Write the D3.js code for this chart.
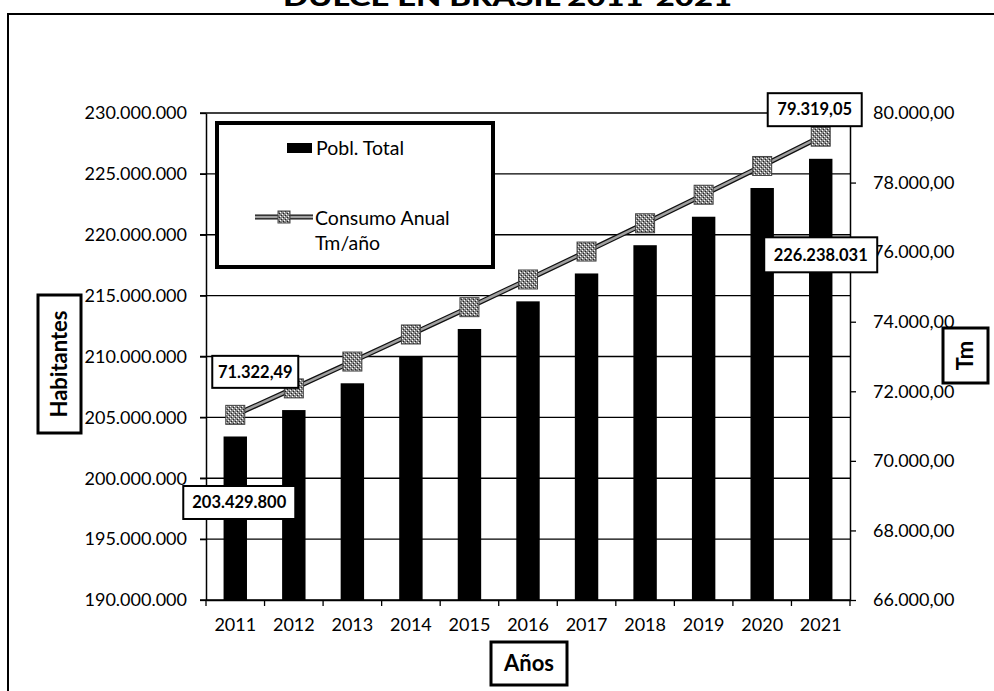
<!DOCTYPE html>
<html>
<head>
<meta charset="utf-8">
<script src="https://cdn.jsdelivr.net/npm/d3@7"></script>
<style>
  body { margin: 0; background: #fff; }
  text { font-family: Lato, "Open Sans", sans-serif; fill: #000; }
</style>
</head>
<body>
<svg id="chart"></svg>
<script>
// datos
var years = ["2011", "2012", "2013", "2014", "2015", "2016", "2017", "2018", "2019", "2020", "2021"];
var poblacion = [203429800, 205600000, 207800000, 210020000, 212260000, 214530000, 216820000, 219140000, 221480000, 223840000, 226238031];
var consumo = [71322.49, 72083, 72855, 73633, 74418, 75214, 76017, 76830, 77650, 78477, 79319.05];
var leftTicks = [190000000, 195000000, 200000000, 205000000, 210000000, 215000000, 220000000, 225000000, 230000000];
var rightTicks = [66000, 68000, 70000, 72000, 74000, 76000, 78000, 80000];

var width = 994;
var height = 691;
var plotLeft = 206, plotRight = 850, plotTop = 113, plotBottom = 600;

var locale = d3.formatLocale({ decimal: ",", thousands: ".", grouping: [3], currency: ["", ""] });
var fmtInt = locale.format(",.0f");
var fmtDec = locale.format(",.2f");

var svg = d3.select("#chart")
    .attr("width", width)
    .attr("height", height);

// patron gris de los marcadores
var pat = svg.append("defs").append("pattern")
    .attr("id", "grain")
    .attr("width", 4)
    .attr("height", 4)
    .attr("patternUnits", "userSpaceOnUse");
pat.append("rect").attr("width", 4).attr("height", 4).attr("fill", "#8a8a8a");
pat.append("rect").attr("x", 0).attr("y", 0).attr("width", 1).attr("height", 1).attr("fill", "#fff");
pat.append("rect").attr("x", 2).attr("y", 2).attr("width", 1).attr("height", 1).attr("fill", "#fff");
pat.append("rect").attr("x", 3).attr("y", 1).attr("width", 1).attr("height", 1).attr("fill", "#222");
pat.append("rect").attr("x", 1).attr("y", 3).attr("width", 1).attr("height", 1).attr("fill", "#222");

// titulo (cortado arriba)
svg.append("text")
    .attr("x", 283)
    .attr("y", 6)
    .attr("textLength", 449)
    .attr("lengthAdjust", "spacingAndGlyphs")
    .style("font-size", "24px")
    .style("font-weight", "900")
    .text("DULCE EN BRASIL 2011-2021");

// marco
svg.append("path")
    .attr("d", "M8," + height + "V14H" + width)
    .attr("fill", "none")
    .attr("stroke", "#000")
    .attr("stroke-width", 2);

var x = d3.scaleBand()
    .domain(years)
    .range([plotLeft, plotRight])
    .paddingInner(0.6)
    .paddingOuter(0.3);

var yL = d3.scaleLinear()
    .domain([190000000, 230000000])
    .range([plotBottom, plotTop]);

var yR = d3.scaleLinear()
    .domain([66000, 80000])
    .range([plotBottom, plotTop]);

// lineas de division
svg.append("g")
    .selectAll("line")
    .data(leftTicks)
    .enter().append("line")
    .attr("x1", plotLeft - 6)
    .attr("x2", plotRight)
    .attr("y1", function (d) { return yL(d); })
    .attr("y2", function (d) { return yL(d); })
    .attr("stroke", "#000")
    .attr("stroke-width", 1.3);

// barras
svg.append("g")
    .selectAll("rect")
    .data(poblacion)
    .enter().append("rect")
    .attr("x", function (d, i) { return x(years[i]); })
    .attr("y", function (d) { return yL(d); })
    .attr("width", x.bandwidth())
    .attr("height", function (d) { return plotBottom - yL(d); })
    .attr("fill", "#000");

// ejes
var axL = svg.append("g")
    .attr("transform", "translate(" + plotLeft + ",0)")
    .call(d3.axisLeft(yL).tickValues(leftTicks).tickFormat(fmtInt).tickSize(6).tickSizeOuter(0).tickPadding(13));

var axR = svg.append("g")
    .attr("transform", "translate(" + plotRight + ",0)")
    .call(d3.axisRight(yR).tickValues(rightTicks).tickFormat(fmtDec).tickSize(6).tickSizeOuter(0).tickPadding(17));

var axB = svg.append("g")
    .attr("transform", "translate(0," + plotBottom + ")")
    .call(d3.axisBottom(x).tickSize(0).tickSizeOuter(0).tickPadding(18));

[axL, axR, axB].forEach(function (a) {
    a.select(".domain").attr("stroke", "#000").attr("stroke-width", 1.5);
    a.selectAll(".tick line").attr("stroke", "#000").attr("stroke-width", 1.3);
    a.selectAll("text").style("font-size", "18px").style("font-family", "Lato");
});

// marcas del eje x entre categorias
svg.append("g")
    .selectAll("line")
    .data(d3.range(years.length + 1))
    .enter().append("line")
    .attr("x1", function (i) { return plotLeft + i * x.step(); })
    .attr("x2", function (i) { return plotLeft + i * x.step(); })
    .attr("y1", plotBottom)
    .attr("y2", plotBottom + 6)
    .attr("stroke", "#000")
    .attr("stroke-width", 1.3);

// linea de consumo
var line = d3.line()
    .x(function (d, i) { return x(years[i]) + x.bandwidth() / 2; })
    .y(function (d) { return yR(d); });

svg.append("path")
    .datum(consumo)
    .attr("d", line)
    .attr("fill", "none")
    .attr("stroke", "#111")
    .attr("stroke-width", 5);

svg.append("path")
    .datum(consumo)
    .attr("d", line)
    .attr("fill", "none")
    .attr("stroke", "#a0a0a0")
    .attr("stroke-width", 2.5);

svg.append("g")
    .selectAll("rect")
    .data(consumo)
    .enter().append("rect")
    .attr("x", function (d, i) { return x(years[i]) + x.bandwidth() / 2 - 9.5; })
    .attr("y", function (d) { return yR(d) - 9.5; })
    .attr("width", 19)
    .attr("height", 19)
    .attr("fill", "url(#grain)")
    .attr("stroke", "#444")
    .attr("stroke-width", 1);

// etiquetas de datos
function label(cx, cy, w, h, txt) {
    svg.append("rect")
        .attr("x", cx - w / 2)
        .attr("y", cy - h / 2)
        .attr("width", w)
        .attr("height", h)
        .attr("fill", "#fff")
        .attr("stroke", "#000")
        .attr("stroke-width", 2);
    svg.append("text")
        .attr("x", cx)
        .attr("y", cy)
        .attr("dy", "0.35em")
        .attr("text-anchor", "middle")
        .style("font-size", "16.5px")
        .style("font-weight", "bold")
        .text(txt);
}

var n = years.length - 1;
var cx0 = x(years[0]) + x.bandwidth() / 2;
var cxN = x(years[n]) + x.bandwidth() / 2;
label(cx0 + 20, yR(consumo[0]) - 43, 86, 32, fmtDec(consumo[0]));
label(cxN - 6, yR(consumo[n]) - 27, 94, 33, fmtDec(consumo[n]));
label(cx0 + 4, yL(poblacion[0]) + 66, 112, 33, fmtInt(poblacion[0]));
label(cxN, yL(poblacion[n]) + 96, 113, 35, fmtInt(poblacion[n]));

// leyenda
var lg = svg.append("g");
lg.append("rect")
    .attr("x", 217).attr("y", 123)
    .attr("width", 276).attr("height", 144)
    .attr("fill", "#fff")
    .attr("stroke", "#000")
    .attr("stroke-width", 4);
lg.append("rect")
    .attr("x", 287).attr("y", 143)
    .attr("width", 25).attr("height", 10)
    .attr("fill", "#000");
lg.append("text").attr("x", 316).attr("y", 155).style("font-size", "19.5px").text("Pobl. Total");
lg.append("line").attr("x1", 255).attr("x2", 313).attr("y1", 217).attr("y2", 217)
    .attr("stroke", "#111").attr("stroke-width", 5);
lg.append("line").attr("x1", 255).attr("x2", 313).attr("y1", 217).attr("y2", 217)
    .attr("stroke", "#a0a0a0").attr("stroke-width", 2.5);
lg.append("rect").attr("x", 278).attr("y", 211).attr("width", 12).attr("height", 12)
    .attr("fill", "url(#grain)").attr("stroke", "#444");
lg.append("text").attr("x", 315).attr("y", 225).style("font-size", "19.5px").text("Consumo Anual");
lg.append("text").attr("x", 315).attr("y", 250).style("font-size", "19.5px").text("Tm/año");

// titulos de ejes
function axisTitle(bx, by, bw, bh, txt, rot) {
    svg.append("rect")
        .attr("x", bx).attr("y", by)
        .attr("width", bw).attr("height", bh)
        .attr("fill", "#fff")
        .attr("stroke", "#000")
        .attr("stroke-width", 3);
    svg.append("text")
        .attr("transform", "translate(" + (bx + bw / 2) + "," + (by + bh / 2) + ")" + (rot ? " rotate(-90)" : ""))
        .attr("dy", "0.35em")
        .attr("text-anchor", "middle")
        .style("font-size", "22px")
        .style("font-weight", "bold")
        .text(txt);
}

axisTitle(38, 295, 43, 138, "Habitantes", true);
axisTitle(943, 328, 45, 55, "Tm", true);
axisTitle(491, 642, 76, 43, "Años", false);
</script>
</body>
</html>
